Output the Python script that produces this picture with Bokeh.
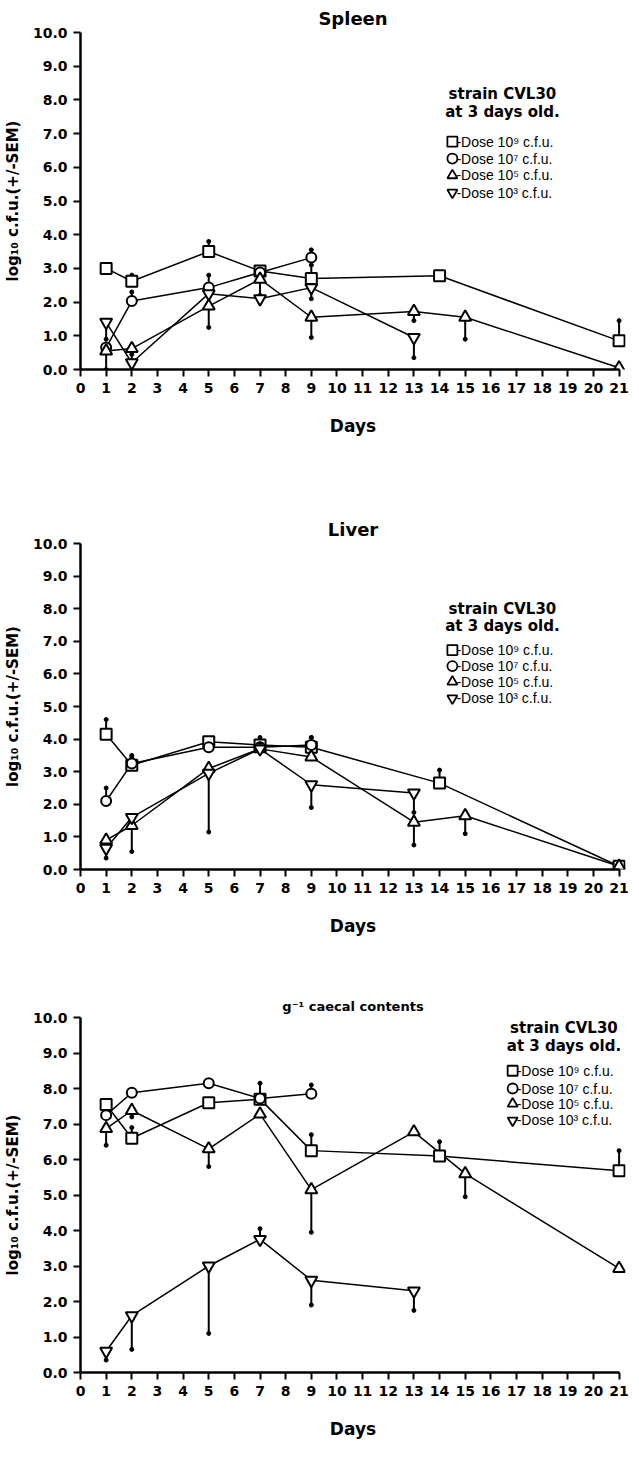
from bokeh.plotting import figure
from bokeh.layouts import column
from bokeh.models import Range1d, FixedTicker, Label, PrintfTickFormatter
from bokeh.core.properties import value
from bokeh.embed import file_html
from bokeh.resources import INLINE

NAN = float("nan")

# ---------------- data ----------------
x_ticks = list(range(0, 22))
y_ticks = list(range(0, 11))
series_labels = ["-Dose 10\u2079 c.f.u.", "-Dose 10\u2077 c.f.u.",
                 "-Dose 10\u2075 c.f.u.", "-Dose 10\u00b3 c.f.u."]
series_markers = ["square", "circle", "triangle", "inverted_triangle"]
panel_titles = ["Spleen", "Liver", "g\u207b\u00b9 caecal contents"]

# Spleen
spleen_d9_days = [1, 2, 5, 7, 9, 14, 21]
spleen_d9_vals = [3.0, 2.62, 3.5, 2.92, 2.7, 2.78, 0.85]
spleen_d9_err = [NAN, 2.8, 3.8, NAN, 3.1, NAN, 1.45]
spleen_d7_days = [1, 2, 5, 7, 9]
spleen_d7_vals = [0.65, 2.03, 2.43, 2.88, 3.32]
spleen_d7_err = [NAN, 2.3, 2.8, NAN, 3.55]
spleen_d5_days = [1, 2, 5, 7, 9, 13, 15, 21]
spleen_d5_vals = [0.55, 0.62, 1.88, 2.68, 1.55, 1.72, 1.55, 0.05]
spleen_d5_err = [0.0, NAN, 1.25, 2.2, 0.95, 1.45, 0.9, NAN]
spleen_d3_days = [1, 2, 5, 7, 9, 13]
spleen_d3_vals = [1.4, 0.2, 2.25, 2.1, 2.43, 0.95]
spleen_d3_err = [0.9, 0.45, NAN, NAN, 2.1, 0.35]

# Liver
liver_d9_days = [1, 2, 5, 7, 9, 14, 21]
liver_d9_vals = [4.15, 3.2, 3.92, 3.82, 3.75, 2.65, 0.1]
liver_d9_err = [4.6, 3.5, NAN, 4.05, 4.05, 3.05, NAN]
liver_d7_days = [1, 2, 5, 7, 9]
liver_d7_vals = [2.1, 3.25, 3.75, 3.75, 3.82]
liver_d7_err = [2.5, 3.45, NAN, NAN, 4.05]
liver_d5_days = [1, 2, 5, 7, 9, 13, 15, 21]
liver_d5_vals = [0.9, 1.35, 3.1, 3.7, 3.45, 1.45, 1.65, 0.1]
liver_d5_err = [NAN, 0.55, NAN, NAN, NAN, 0.75, 1.1, NAN]
liver_d3_days = [1, 2, 5, 7, 9, 13]
liver_d3_vals = [0.65, 1.6, 2.95, 3.7, 2.6, 2.35]
liver_d3_err = [0.35, NAN, 1.15, NAN, 1.9, 1.75]

# Caecal contents
caecal_d9_days = [1, 2, 5, 7, 9, 14, 21]
caecal_d9_vals = [7.55, 6.6, 7.6, 7.7, 6.25, 6.1, 5.68]
caecal_d9_err = [NAN, 6.9, NAN, 8.15, 6.7, 6.5, 6.25]
caecal_d7_days = [1, 2, 5, 7, 9]
caecal_d7_vals = [7.25, 7.88, 8.15, 7.72, 7.85]
caecal_d7_err = [NAN, NAN, NAN, NAN, 8.1]
caecal_d5_days = [1, 2, 5, 7, 9, 13, 15, 21]
caecal_d5_vals = [6.87, 7.38, 6.3, 7.28, 5.15, 6.78, 5.6, 2.93]
caecal_d5_err = [6.4, 7.2, 5.8, NAN, 3.95, NAN, 4.95, NAN]
caecal_d3_days = [1, 2, 5, 7, 9, 13]
caecal_d3_vals = [0.6, 1.6, 3.0, 3.75, 2.6, 2.3]
caecal_d3_err = [0.35, 0.65, 1.1, 4.05, 1.9, 1.75]

panels_data = [
    [(spleen_d9_days, spleen_d9_vals, spleen_d9_err),
     (spleen_d7_days, spleen_d7_vals, spleen_d7_err),
     (spleen_d5_days, spleen_d5_vals, spleen_d5_err),
     (spleen_d3_days, spleen_d3_vals, spleen_d3_err)],
    [(liver_d9_days, liver_d9_vals, liver_d9_err),
     (liver_d7_days, liver_d7_vals, liver_d7_err),
     (liver_d5_days, liver_d5_vals, liver_d5_err),
     (liver_d3_days, liver_d3_vals, liver_d3_err)],
    [(caecal_d9_days, caecal_d9_vals, caecal_d9_err),
     (caecal_d7_days, caecal_d7_vals, caecal_d7_err),
     (caecal_d5_days, caecal_d5_vals, caecal_d5_err),
     (caecal_d3_days, caecal_d3_vals, caecal_d3_err)],
]

# ---------------- layout constants ----------------
FONT_B = "DejaVu Sans"
W = 631
layouts = [
    dict(h=512, bt=32, bb=143, bl=76, br=6, xend=21.25, title_size="18px",
         hx=16.45, hy=(8.17, 7.63), mx=14.5, rows=(6.76, 6.26, 5.76, 5.25)),
    dict(h=477, bt=30, bb=120, bl=80, br=2, xend=21.25, title_size="18px",
         hx=16.45, hy=(8.0, 7.47), mx=14.5, rows=(6.73, 6.24, 5.76, 5.25)),
    dict(h=455, bt=28, bb=72, bl=80, br=2, xend=21.25, title_size="13px",
         hx=18.85, hy=(9.7, 9.2), mx=16.85, rows=(8.5, 8.0, 7.57, 7.1)),
]
marker_sizes = {"square": 11, "circle": 10, "triangle": 12, "inverted_triangle": 12}

figs = []
for pi, (lay, pdata) in enumerate(zip(layouts, panels_data)):
    p = figure(width=W, height=lay["h"], output_backend="svg", toolbar_location=None,
               x_range=Range1d(0, lay["xend"]), y_range=Range1d(0, 10),
               min_border_top=lay["bt"], min_border_bottom=lay["bb"],
               min_border_left=lay["bl"], min_border_right=lay["br"],
               title=panel_titles[pi])
    p.title.align = "center"
    p.title.text_font = FONT_B
    p.title.text_font_style = "bold"
    p.title.text_font_size = lay["title_size"]
    p.title.text_color = "black"
    p.title.standoff = 8
    p.outline_line_color = None
    p.grid.visible = False
    p.background_fill_color = "white"
    p.border_fill_color = "white"

    for ax in (p.xaxis[0], p.yaxis[0]):
        ax.axis_line_width = 2.5
        ax.axis_line_color = "black"
        ax.major_tick_line_width = 2
        ax.major_tick_line_color = "black"
        ax.major_tick_in = 0
        ax.major_tick_out = 7
        ax.minor_tick_line_color = None
        ax.major_label_text_font = FONT_B
        ax.major_label_text_font_style = "bold"
        ax.major_label_text_color = "black"
        ax.axis_label_text_font = FONT_B
        ax.axis_label_text_font_style = "bold"
        ax.axis_label_text_color = "black"

    p.xaxis.ticker = FixedTicker(ticks=x_ticks)
    p.xaxis.bounds = (0, 21)
    p.xaxis.major_label_text_font_size = "14px"
    p.xaxis.major_label_standoff = 6
    p.xaxis.axis_label = "Days"
    p.xaxis.axis_label_text_font_size = "17px"
    p.xaxis.axis_label_standoff = 20

    p.yaxis.ticker = FixedTicker(ticks=y_ticks)
    p.yaxis.formatter = PrintfTickFormatter(format="%.1f")
    p.yaxis.major_label_text_font_size = "14px"
    p.yaxis.major_label_standoff = 6
    p.yaxis.axis_label = "log\u2081\u2080 c.f.u.(+/-SEM)"
    p.yaxis.axis_label_text_font_size = "15px"
    p.yaxis.axis_label_standoff = 8

    # lines
    for (days, vals, errs) in pdata:
        p.line(days, vals, line_color="black", line_width=1.5)
    # error bars (one-sided SEM)
    for (days, vals, errs) in pdata:
        xs = [d for d, e in zip(days, errs) if e == e]
        y0 = [v for v, e in zip(vals, errs) if e == e]
        y1 = [e for e in errs if e == e]
        if xs:
            p.segment(x0=xs, y0=y0, x1=xs, y1=y1, line_color="black", line_width=2)
            p.scatter(xs, y1, marker="circle", size=4, fill_color="black", line_color="black")
    # markers
    for si, (days, vals, errs) in enumerate(pdata):
        mk = series_markers[si]
        p.scatter(days, vals, marker=mk, size=marker_sizes[mk], fill_color="white",
                  line_color="black", line_width=2)

    # legend header
    for txt, hy in zip(["strain CVL30", "at 3 days old."], lay["hy"]):
        p.add_layout(Label(x=lay["hx"], y=hy, text=txt, text_align="center",
                           text_baseline="middle", text_font=FONT_B, text_font_style="bold",
                           text_font_size="15px", text_color="black"))
    # legend entries
    for si, ry in enumerate(lay["rows"]):
        mk = series_markers[si]
        p.scatter([lay["mx"]], [ry], marker=mk, size=10, fill_color="white",
                  line_color="black", line_width=1.8)
        p.text([lay["mx"]], [ry], text=[series_labels[si]], x_offset=4,
               text_align="left", text_baseline="middle",
               text_font=value("Liberation Sans"), text_font_size="14px", text_color="black")
    figs.append(p)

layout = column(*figs)
open("out.html", "w").write(file_html(layout, INLINE))
